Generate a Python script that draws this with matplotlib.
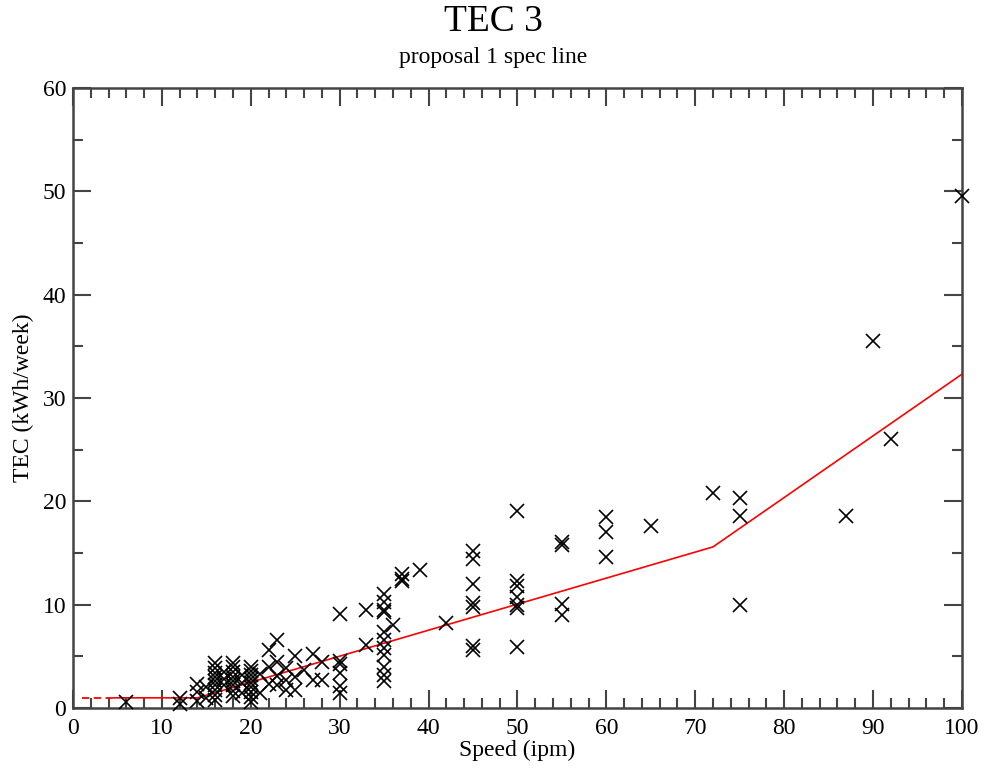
"""TEC 3 scatter with the proposal-1 spec line (TEC vs speed)."""

import matplotlib

matplotlib.use("Agg")
import matplotlib.pyplot as plt  # noqa: E402
from matplotlib.ticker import MultipleLocator  # noqa: E402

# measured products: speed (ipm) and TEC (kWh/week), one row per speed
SPEED = (
    [6]
    + [12] * 2
    + [14] * 3
    + [15] * 2
    + [16] * 9
    + [17] * 3
    + [18] * 8
    + [19] * 3
    + [20] * 9
    + [21] * 2
    + [22] * 3
    + [23] * 4
    + [24] * 3
    + [25] * 3
    + [26]
    + [27] * 2
    + [28] * 2
    + [30] * 6
    + [33] * 2
    + [35] * 11
    + [36]
    + [37] * 3
    + [39]
    + [42]
    + [45] * 7
    + [50] * 7
    + [55] * 4
    + [60] * 3
    + [65]
    + [72]
    + [75] * 3
    + [87]
    + [90]
    + [92]
    + [100]
)
TEC = [
    0.6,
    1.0, 0.4,
    2.3, 1.6, 0.7,
    2.0, 1.0,
    4.4, 3.9, 3.4, 3.0, 2.6, 2.2, 1.8, 1.3, 0.8,
    3.5, 2.8, 2.2,
    4.4, 4.0, 3.5, 3.0, 2.6, 2.2, 1.7, 1.2,
    3.2, 2.4, 1.5,
    4.0, 3.6, 3.2, 2.8, 2.4, 2.0, 1.6, 1.1, 0.6,
    3.3, 1.5,
    5.6, 4.0, 2.3,
    6.6, 4.5, 3.1, 2.2,
    3.9, 2.7, 1.8,
    5.0, 3.0, 1.8,
    3.7,
    5.2, 2.7,
    4.5, 2.7,
    9.1, 4.6, 4.3, 3.4, 2.1, 1.5,
    9.5, 6.1,
    11.0, 10.3, 9.5, 9.3, 7.4, 6.6, 5.8, 5.1, 4.0, 3.2, 2.6,
    8.0,
    13.0, 12.5, 12.3,
    13.4,
    8.2,
    15.2, 14.4, 12.0, 10.2, 9.8, 6.0, 5.6,
    19.1, 12.3, 11.8, 10.8, 10.0, 9.7, 5.9,
    16.1, 15.8, 10.1, 9.0,
    18.5, 17.0, 14.6,
    17.6,
    20.8,
    20.3, 18.6, 10.0,
    18.6,
    35.5,
    26.0,
    49.5,
]

# spec line: dashed stub at low speed, then the piecewise-linear limit
DASH_X = [1.0, 4.5]
DASH_Y = [1.0, 1.0]
SPEC_X = [4.5, 14.0, 72.0, 100.0]
SPEC_Y = [1.0, 1.0, 15.6, 32.3]

SERIF = ["Liberation Serif", "DejaVu Serif"]
AXIS_INK = "#444444"


def main():
    plt.rcParams["font.family"] = SERIF
    fig = plt.figure(figsize=(9.87, 7.71), dpi=100)
    ax = fig.add_axes((0.074, 0.0815, 0.9005, 0.8045))

    ax.plot(SPEED, TEC, ls="none", marker="x", ms=10, mew=1.2,
            color="black", clip_on=False, zorder=3)
    ax.plot(DASH_X, DASH_Y, color="red", lw=1.3, ls=(0, (4, 2.5)), zorder=2)
    ax.plot(SPEC_X, SPEC_Y, color="red", lw=1.2, zorder=2)

    ax.set_xlim(0, 100)
    ax.set_ylim(0, 60)
    ax.xaxis.set_major_locator(MultipleLocator(10))
    ax.xaxis.set_minor_locator(MultipleLocator(2))
    ax.yaxis.set_major_locator(MultipleLocator(10))
    ax.yaxis.set_minor_locator(MultipleLocator(5))
    ax.tick_params(which="both", direction="in", top=True, right=True,
                   width=1.5, labelsize=17, color=AXIS_INK)
    ax.tick_params(which="major", length=13)
    ax.tick_params(which="minor", length=7)
    ax.tick_params(axis="x", which="major", pad=7)
    ax.tick_params(axis="y", which="major", pad=5)
    for s in ax.spines.values():
        s.set_linewidth(1.8)
        s.set_color(AXIS_INK)

    ax.set_xlabel("Speed (ipm)", fontsize=17, labelpad=1)
    ax.set_ylabel("TEC (kWh/week)", fontsize=17, labelpad=6)
    fig.text(0.5, 0.972, "TEC 3", ha="center", va="center", fontsize=27)
    fig.text(0.5, 0.925, "proposal 1 spec line", ha="center", va="center",
             fontsize=17)

    fig.savefig("out.png")


if __name__ == "__main__":
    main()
